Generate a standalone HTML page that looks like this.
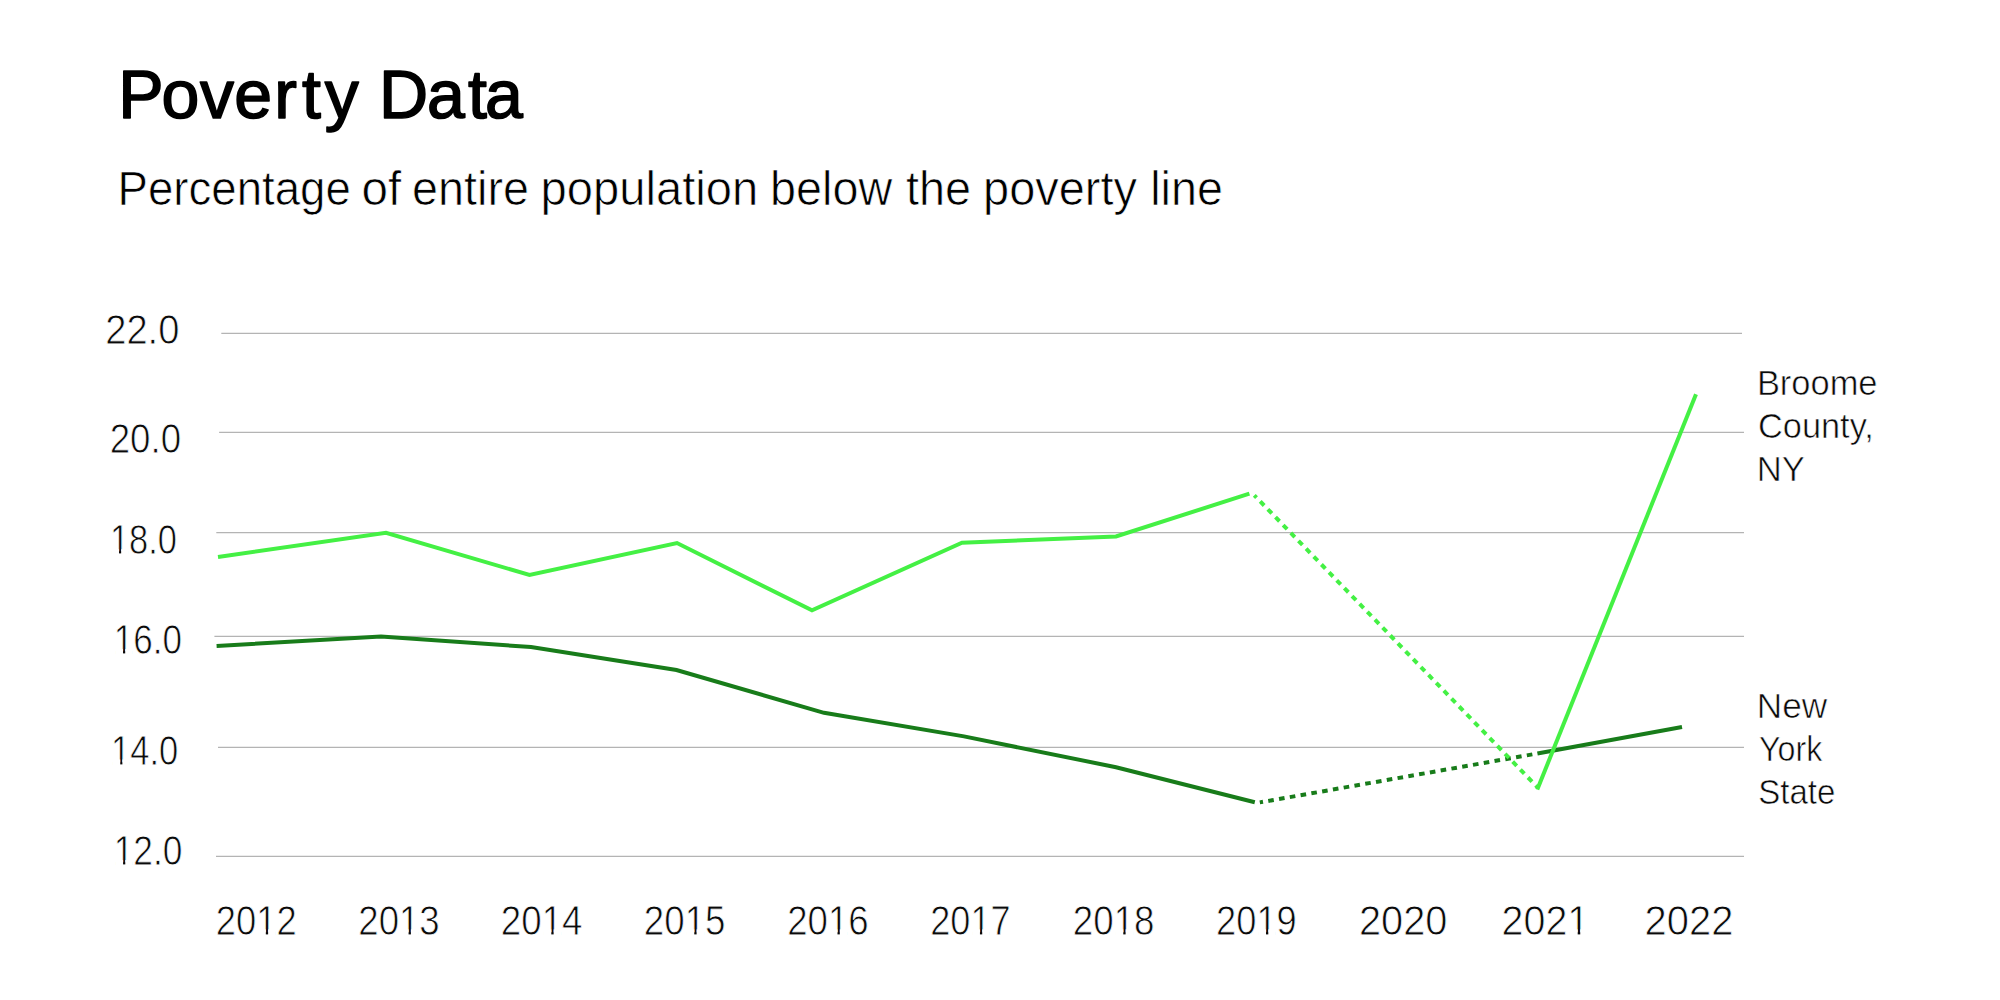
<!DOCTYPE html>
<html lang="en">
<head>
<meta charset="utf-8">
<title>Poverty Data</title>
<style>
html,body{margin:0;padding:0;background:#fff;}
body{width:2000px;height:1000px;overflow:hidden;}
svg{display:block;}
text{font-family:"Liberation Sans",sans-serif;fill:#0a0a0a;}
.title{font-size:68px;fill:#000;stroke:#000;stroke-width:1.6px;stroke-linejoin:round;}
.sub{font-size:48px;fill:#000;stroke:#fff;stroke-width:0.7px;}
.ax{font-size:42px;}
.lg{font-size:34.8px;}
.thin{stroke:#fff;stroke-width:0.8px;}
.thinl{stroke:#fff;stroke-width:0.6px;}
.grid line{stroke:#b4b4b4;stroke-width:1.3;}
.l{fill:none;stroke:#44f044;stroke-width:4;stroke-linejoin:miter;}
.d{fill:none;stroke:#187c1a;stroke-width:4;stroke-linejoin:miter;}
.l.dot{stroke-dasharray:5.7 5.29;stroke-dashoffset:2.5;}
.d.dot{stroke-dasharray:5.6 5.34;stroke-dashoffset:2.35;}
</style>
</head>
<body>
<svg width="2000" height="1000" viewBox="0 0 2000 1000">
<rect width="2000" height="1000" fill="#fff"/>
<text class="title" y="117.9"><tspan x="118.3 161.6 199.9 234.2 274.2 301.9 324.8">Poverty</tspan> <tspan x="378.9 427.1 468.1 485.0">Data</tspan></text>
<text class="sub" y="205.3"><tspan x="117.5" textLength="233.3" lengthAdjust="spacingAndGlyphs">Percentage</tspan> <tspan x="361.6" textLength="39.7" lengthAdjust="spacingAndGlyphs">of</tspan> <tspan x="412.1" textLength="116.9" lengthAdjust="spacingAndGlyphs">entire</tspan> <tspan x="540.6" textLength="217.7" lengthAdjust="spacingAndGlyphs">population</tspan> <tspan x="770.1" textLength="122.1" lengthAdjust="spacingAndGlyphs">below</tspan> <tspan x="905.9" textLength="65.1" lengthAdjust="spacingAndGlyphs">the</tspan> <tspan x="983.1" textLength="153.8" lengthAdjust="spacingAndGlyphs">poverty</tspan> <tspan x="1150.2" textLength="72.7" lengthAdjust="spacingAndGlyphs">line</tspan></text>
<g class="grid">
<line x1="221.3" y1="333.4" x2="1742" y2="333.4"/>
<line x1="219.1" y1="432.4" x2="1744" y2="432.4"/>
<line x1="216.3" y1="532.6" x2="1744" y2="532.6"/>
<line x1="214.4" y1="636.4" x2="1744" y2="636.4"/>
<line x1="218.0" y1="747.4" x2="1744" y2="747.4"/>
<line x1="216.0" y1="856.3" x2="1744" y2="856.3"/>
</g>
<g class="ax thin">
<text x="105.2" y="344.2" textLength="74.2" lengthAdjust="spacingAndGlyphs">22.0</text>
<text x="109.7" y="453.4" textLength="71.4" lengthAdjust="spacingAndGlyphs">20.0</text>
<text x="109.9" y="554.4" textLength="67.0" lengthAdjust="spacingAndGlyphs">18.0</text>
<text x="113.8" y="654.3" textLength="68.2" lengthAdjust="spacingAndGlyphs">16.0</text>
<text x="111.1" y="764.6" textLength="67.2" lengthAdjust="spacingAndGlyphs">14.0</text>
<text x="113.7" y="865.2" textLength="68.8" lengthAdjust="spacingAndGlyphs">12.0</text>
<text x="215.8" y="934.5" textLength="80.9" lengthAdjust="spacingAndGlyphs">2012</text>
<text x="358.3" y="934.5" textLength="81.4" lengthAdjust="spacingAndGlyphs">2013</text>
<text x="500.8" y="934.5" textLength="81.7" lengthAdjust="spacingAndGlyphs">2014</text>
<text x="643.8" y="934.5" textLength="81.7" lengthAdjust="spacingAndGlyphs">2015</text>
<text x="787.2" y="934.5" textLength="81.4" lengthAdjust="spacingAndGlyphs">2016</text>
<text x="930.3" y="934.5" textLength="80.3" lengthAdjust="spacingAndGlyphs">2017</text>
<text x="1072.8" y="934.5" textLength="81.7" lengthAdjust="spacingAndGlyphs">2018</text>
<text x="1216.1" y="934.5" textLength="80.7" lengthAdjust="spacingAndGlyphs">2019</text>
<text x="1359.0" y="934.5" textLength="88.4" lengthAdjust="spacingAndGlyphs">2020</text>
<text x="1501.6" y="934.5" textLength="87.6" lengthAdjust="spacingAndGlyphs">2021</text>
<text x="1644.6" y="934.5" textLength="88.8" lengthAdjust="spacingAndGlyphs">2022</text>
</g>
<g fill="#fff">
<rect x="111.65" y="549.25" width="7.37" height="6.35"/>
<rect x="121.15" y="549.25" width="7.03" height="6.35"/>
<rect x="115.52" y="649.15" width="7.49" height="6.35"/>
<rect x="125.20" y="649.15" width="7.14" height="6.35"/>
<rect x="112.85" y="759.45" width="7.39" height="6.35"/>
<rect x="122.38" y="759.45" width="7.05" height="6.35"/>
<rect x="115.51" y="860.05" width="7.56" height="6.35"/>
<rect x="125.28" y="860.05" width="7.20" height="6.35"/>
<rect x="258.06" y="929.35" width="7.76" height="6.35"/>
<rect x="268.12" y="929.35" width="7.40" height="6.35"/>
<rect x="400.78" y="929.35" width="7.80" height="6.35"/>
<rect x="410.90" y="929.35" width="7.44" height="6.35"/>
<rect x="543.46" y="929.35" width="7.83" height="6.35"/>
<rect x="553.63" y="929.35" width="7.47" height="6.35"/>
<rect x="686.44" y="929.35" width="7.83" height="6.35"/>
<rect x="696.60" y="929.35" width="7.46" height="6.35"/>
<rect x="829.68" y="929.35" width="7.80" height="6.35"/>
<rect x="839.80" y="929.35" width="7.44" height="6.35"/>
<rect x="972.25" y="929.35" width="7.70" height="6.35"/>
<rect x="982.23" y="929.35" width="7.34" height="6.35"/>
<rect x="1115.44" y="929.35" width="7.83" height="6.35"/>
<rect x="1125.60" y="929.35" width="7.46" height="6.35"/>
<rect x="1258.26" y="929.35" width="7.74" height="6.35"/>
<rect x="1268.30" y="929.35" width="7.38" height="6.35"/>
<rect x="1569.32" y="929.35" width="8.37" height="6.35"/>
<rect x="1580.25" y="929.35" width="7.97" height="6.35"/>
</g>
<polyline class="d" points="216.6,646.0 381.0,636.5 531.0,647.0 676.5,670.0 824.0,712.8 964.0,736.4 1116.0,767.2 1254.8,802.2"/>
<polyline class="d dot" points="1259.8,802.4 1537.4,753.5"/>
<polyline class="d" points="1537.4,753.5 1682.0,727.0"/>
<polyline class="l" points="218.0,557.0 386.0,532.8 529.5,575.0 677.0,543.0 812.0,610.4 962.0,542.8 1116.0,536.4 1249.4,493.7"/>
<polyline class="l dot" points="1254.3,495.3 1538.3,788.1"/>
<polyline class="l" points="1537.3,789.5 1696.0,394.2"/>
<g class="lg thinl">
<text><tspan x="1756.9" y="394.7" textLength="120.6" lengthAdjust="spacingAndGlyphs">Broome</tspan> <tspan x="1758.0" y="437.9" textLength="115.8" lengthAdjust="spacingAndGlyphs">County,</tspan> <tspan x="1756.8" y="480.7" textLength="48.2" lengthAdjust="spacingAndGlyphs">NY</tspan></text>
<text><tspan x="1756.8" y="717.9" textLength="70.4" lengthAdjust="spacingAndGlyphs">New</tspan> <tspan x="1759.0" y="760.9" textLength="63.3" lengthAdjust="spacingAndGlyphs">York</tspan> <tspan x="1758.2" y="803.7" textLength="77.1" lengthAdjust="spacingAndGlyphs">State</tspan></text>
</g>
</svg>
</body>
</html>
